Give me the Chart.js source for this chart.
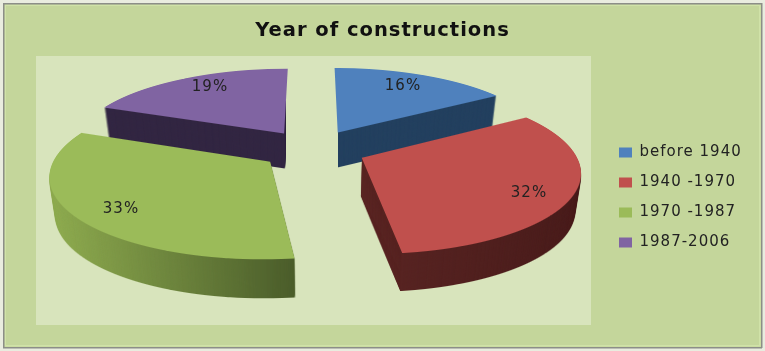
<!DOCTYPE html>
<html><head><meta charset="utf-8">
<style>html,body{margin:0;padding:0;background:#c4d69b}canvas{display:block;filter:blur(0.5px)}</style>
<script src="https://cdn.jsdelivr.net/npm/chart.js@4/dist/chart.umd.min.js"></script>
</head><body>
<div style="width:765px;height:351px;overflow:hidden"><canvas id="c" width="765" height="351"></canvas></div>
<script>
const categories = ['before 1940', '1940 -1970', '1970 -1987', '1987-2006'];
const shares = [16, 32, 33, 19];
const titleText = 'Year of constructions';
const topColors = ['#4f81bd', '#c0504d', '#9bbb59', '#8064a2'];

// Perspective of the pie plane and per-slice styling
const persp = {cx: 313, cy: 149.3, A: 212, D: 78.9, p: 0.15, explode: 0.25, bottomScale: 0.977};
const depth = [35, 38, 39, 35];
const drawOrder = [0, 3, 1, 2];
const wallStops = [
  [[0, '#23405f'], [1, '#23405f']],
  [[0, '#5a2523'], [1, '#491c1b']],
  [[0, '#8fac50'], [1, '#4a5c2a']],
  [[0, '#322642'], [1, '#322642']]
];
const wallRange = [[336, 501], [361, 582], [49, 297], [105, 288]];
const wallClip = [[338, 765], [0, 765], [0, 765], [0, 286]];
const labelAt = [[403, 86], [529, 193], [121, 209], [210, 87]];

function drawProjected(ctx, el, i, style) {
  const {cx, cy, A, D, p, explode} = persp;
  const R = el.outerRadius;
  const mid = (el.startAngle + el.endAngle) / 2;
  const ox = Math.cos(mid) * explode, oy = Math.sin(mid) * explode;
  const saved = el.options;
  el.options = Object.assign({}, saved, {backgroundColor: style, borderWidth: 0, offset: 0});
  for (let y = 50; y < 300; y++) {
    const ym = y + 0.5;
    const Y = (ym - cy) / D;
    const Vm = Y / (1 + p * Y);
    if (Vm < oy - 1.02 || Vm > oy + 1.02) continue;
    const w = 1 - p * Vm;
    const sx = A / (w * R), sy = D / (w * w * R);
    ctx.save();
    ctx.beginPath();
    ctx.rect(0, y, 765, 1);
    ctx.clip();
    ctx.setTransform(sx, 0, 0, sy,
      cx + (A / w) * ox - sx * el.x,
      ym + (D / (w * w)) * (oy - Vm) - sy * el.y);
    el.draw(ctx);
    ctx.restore();
  }
  el.options = saved;
}

const pie3d = {
  id: 'pie3d',
  beforeDraw(chart) {
    const c = chart.ctx;
    c.letterSpacing = '1px';
    c.save();
    c.fillStyle = '#e9ecdf'; c.fillRect(0, 0, 765, 351);
    c.fillStyle = '#c4d69b'; c.fillRect(3, 3, 759, 345);
    c.fillStyle = '#d0e2a8'; c.fillRect(4.5, 4.5, 756, 342);
    c.fillStyle = '#c4d69b'; c.fillRect(6, 6, 753, 339);
    c.fillStyle = '#8c8e88';
    c.fillRect(3, 3, 759, 1.5); c.fillRect(3, 3, 1.5, 345);
    c.fillRect(761, 3, 1.5, 345); c.fillRect(3, 347, 759, 1.5);
    c.fillStyle = '#d8e4bc'; c.fillRect(36, 56, 555, 269);
    c.restore();
  },
  afterLayout(chart) {
    const l = chart.legend;
    l.left = 604; l.right = 765; l.top = 130; l.bottom = 300;
  },
  beforeDatasetDraw() { return false; },
  afterDatasetsDraw(chart) {
    const ctx = chart.ctx, arcs = chart.getDatasetMeta(0).data;
    for (const i of drawOrder) {
      const off = document.createElement('canvas');
      off.width = 765; off.height = 351;
      const o = off.getContext('2d');
      drawProjected(o, arcs[i], i, '#000');
      const g = o.createLinearGradient(wallRange[i][0], 0, wallRange[i][1], 0);
      wallStops[i].forEach(s => g.addColorStop(s[0], s[1]));
      o.globalCompositeOperation = 'source-in';
      o.fillStyle = g; o.fillRect(0, 0, 765, 351);
      ctx.save();
      ctx.beginPath();
      ctx.rect(wallClip[i][0], 0, wallClip[i][1] - wallClip[i][0], 351);
      ctx.clip();
      for (let k = depth[i]; k >= 1; k--) {
        const s = 1 - (1 - persp.bottomScale) * k / depth[i];
        ctx.drawImage(off, persp.cx * (1 - s), k, 765 * s, 351);
      }
      ctx.restore();
      drawProjected(ctx, arcs[i], i, topColors[i]);
    }
    ctx.save();
    ctx.fillStyle = '#222';
    ctx.font = '15px "DejaVu Sans"';
    ctx.textAlign = 'center'; ctx.textBaseline = 'middle';
    shares.forEach((v, i) => ctx.fillText(v + '%', labelAt[i][0], labelAt[i][1]));
    ctx.restore();
  }
};

new Chart(document.getElementById('c'), {
  type: 'pie',
  data: {labels: categories, datasets: [{data: shares, backgroundColor: topColors, borderWidth: 0}]},
  plugins: [pie3d],
  options: {
    responsive: false, animation: false, events: [],
    layout: {padding: {top: 10, left: 20, right: 20, bottom: 30}},
    plugins: {
      title: {display: true, text: titleText, color: '#111', font: {family: '"DejaVu Sans"', size: 19.5, weight: 'bold', lineHeight: 1}, padding: {top: 11, bottom: 20}},
      legend: {position: 'right', align: 'start',
        labels: {boxWidth: 13, boxHeight: 10, padding: 15, color: '#222', font: {family: '"DejaVu Sans"', size: 15, lineHeight: 1}}},
      tooltip: {enabled: false}
    }
  }
});
</script>
</body></html>
